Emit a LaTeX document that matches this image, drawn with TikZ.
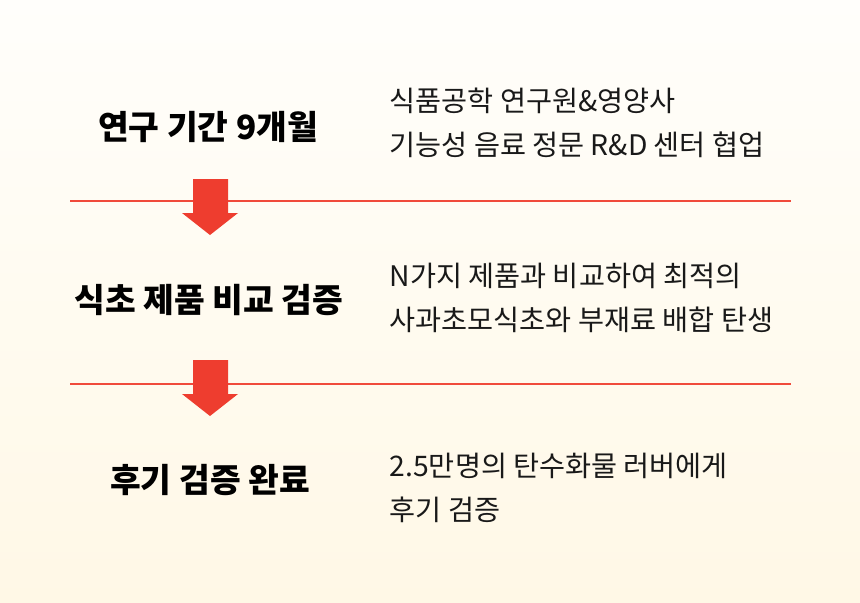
\documentclass[tikz,border=0pt]{standalone}
\usepackage{fontspec}
\setmainfont{Noto Sans CJK KR}
\usepackage{tikz}

\definecolor{bgtop}{HTML}{FFFEFB}
\definecolor{bgbot}{HTML}{FFF8E6}
\definecolor{arrowred}{HTML}{EE3D2F}
\definecolor{linered}{HTML}{F04A3B}

\tikzset{
    heading/.style={font=\bfseries\fontsize{9.5}{11}\selectfont, text=black, anchor=center},
    detail/.style={font=\fontsize{8.05}{12.4}\selectfont, text=black!90, anchor=west, align=left, inner sep=0pt},
    sepline/.style={linered, line width=0.7pt},
    blockarrow/.style={fill=arrowred, draw=none}
}

\begin{document}
\begin{tikzpicture}
        \shade[top color=bgtop, bottom color=bgbot] (0,0) rectangle (8.6,6.02);
        \useasboundingbox (0,0) rectangle (8.6,6.02);

        \coordinate (l1) at (0.70, 4.01);
        \coordinate (r1) at (7.91, 4.01);
        \coordinate (l2) at (0.70, 2.18);
        \coordinate (r2) at (7.91, 2.18);

        \draw[sepline] (l1) -- (r1);
        \draw[sepline] (l2) -- (r2);

        \fill[blockarrow] (1.93, 4.23) -- (2.28, 4.23) -- (2.28, 3.89) -- (2.38, 3.89)
            -- (2.10, 3.67) -- (1.82, 3.89) -- (1.93, 3.89) -- cycle;
        \fill[blockarrow] (1.93, 2.42) -- (2.28, 2.42) -- (2.28, 2.08) -- (2.38, 2.08)
            -- (2.10, 1.86) -- (1.82, 2.08) -- (1.93, 2.08) -- cycle;

        \node[heading] (h1) at (2.08, 4.75) {연구 기간 9개월};
        \node[heading] (h2) at (2.09, 3.02) {식초 제품 비교 검증};
        \node[heading] (h3) at (2.10, 1.22) {후기 검증 완료};

        \node[detail] (d1) at (3.89, 4.79) {식품공학 연구원\&영양사\\기능성 음료 정문 R\&D 센터 협업};
        \node[detail] (d2) at (3.89, 3.04) {N가지 제품과 비교하여 최적의\\사과초모식초와 부재료 배합 탄생};
        \node[detail] (d3) at (3.89, 1.14) {2.5만명의 탄수화물 러버에게\\후기 검증};
    \end{tikzpicture}
\end{document}
